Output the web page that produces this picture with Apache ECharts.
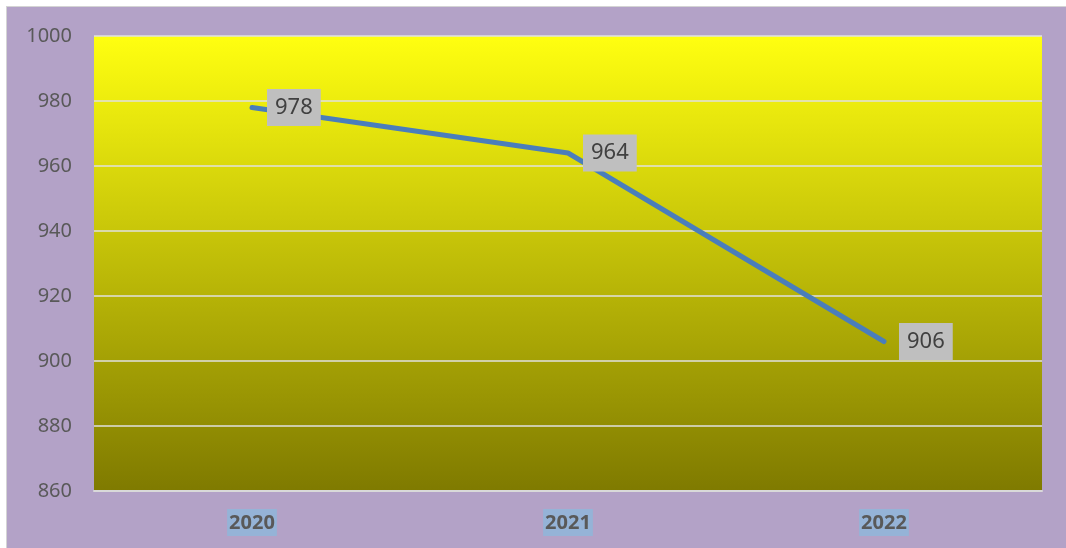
<!DOCTYPE html>
<html>
<head>
<meta charset="utf-8">
<script src="https://cdn.jsdelivr.net/npm/echarts@6/dist/echarts.min.js"></script>
<style>
html,body{margin:0;padding:0;background:#ffffff;}
#frame{position:absolute;left:6px;top:6px;width:1060px;height:542px;border-left:1px solid #d4d4d4;border-top:1px solid #d4d4d4;box-sizing:border-box;}
#chart{width:100%;height:100%;}
</style>
</head>
<body>
<div id="frame"><div id="chart"></div></div>
<script>
const categories = ['2020', '2021', '2022'];
const values = [978, 964, 906];
const yTicks = { min: 860, max: 1000, interval: 20 };

const chart = echarts.init(document.getElementById('chart'));
chart.setOption({
  backgroundColor: '#b3a2c7',
  animation: false,
  grid: { left: 87, top: 29, right: 24, bottom: 57, containLabel: false,
    show: true, borderWidth: 0,
    backgroundColor: new echarts.graphic.LinearGradient(0, 0, 0, 1, [
      { offset: 0, color: '#ffff10' },
      { offset: 1, color: '#7f7a00' }
    ])
  },
  xAxis: {
    type: 'category',
    data: categories,
    boundaryGap: true,
    axisLine: { show: true, lineStyle: { color: '#d9d9d9', width: 2 } },
    axisTick: { show: false },
    axisLabel: {
      color: '#595959', fontSize: 20, fontWeight: 'bold', fontFamily: 'Noto Sans',
      backgroundColor: '#95b3d7', padding: [4, 2, 3, 2], margin: 18
    }
  },
  yAxis: {
    type: 'value',
    min: yTicks.min, max: yTicks.max, interval: yTicks.interval,
    axisLine: { show: false },
    axisTick: { show: false },
    splitLine: { lineStyle: { color: '#e0e0e0', width: 1.5 } },
    axisLabel: { color: '#595959', fontSize: 20, fontFamily: 'Noto Sans', margin: 22,
      formatter: function (v) { return String(v); } }
  },
  series: [{
    type: 'line',
    data: values,
    symbol: 'circle',
    symbolSize: 2,
    itemStyle: { color: '#4a7ebb' },
    lineStyle: { color: '#4a7ebb', width: 5, cap: 'round', join: 'round' },
    label: {
      show: true, position: 'right', distance: 14,
      color: '#404040', fontSize: 22, fontFamily: 'Noto Sans',
      backgroundColor: '#bfbfbf', padding: [8, 8, 7, 8]
    }
  }]
});
</script>
</body>
</html>
